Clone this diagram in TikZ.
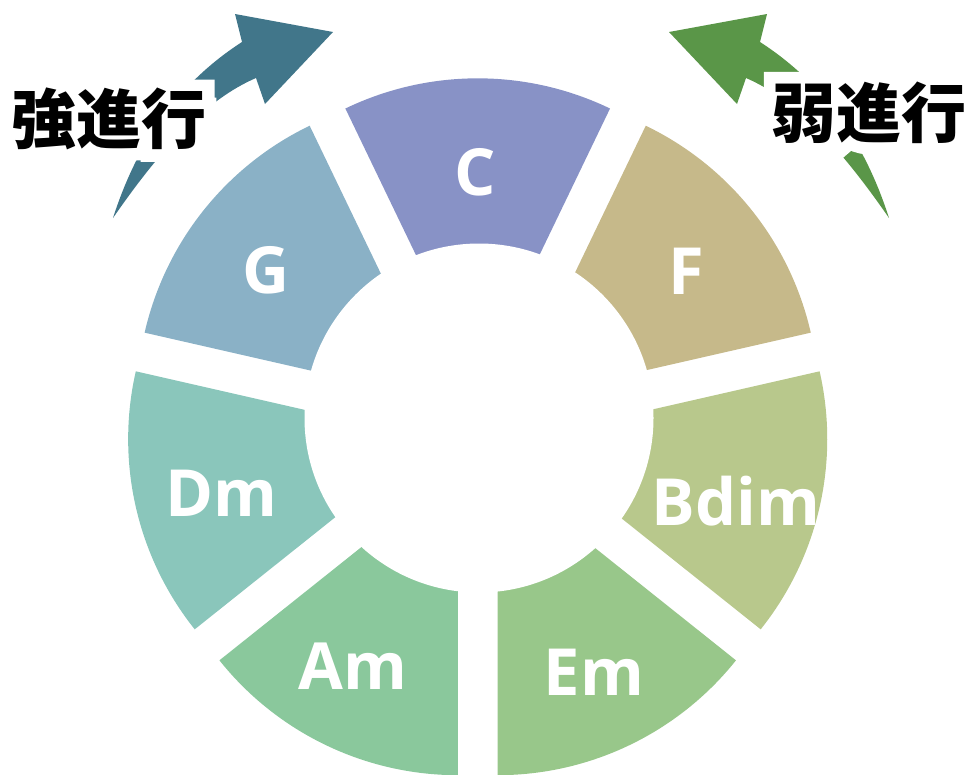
\documentclass[tikz,border=0pt]{standalone}
\usepackage{fontspec}
\newfontfamily\cjk{Noto Sans CJK JP}
\newfontfamily\cjkglow{Noto Sans CJK JP}[UprightFont={* Bold}, FakeBold=38]
\newfontfamily\labfont{Open Sans}
\usetikzlibrary{calc}
\definecolor{cC}{HTML}{8892C6}
\definecolor{cF}{HTML}{C6B98A}
\definecolor{cB}{HTML}{B8C88C}
\definecolor{cE}{HTML}{98C78A}
\definecolor{cA}{HTML}{8AC89C}
\definecolor{cD}{HTML}{8AC6BB}
\definecolor{cG}{HTML}{8AB1C6}
\definecolor{arrL}{HTML}{41768A}
\definecolor{arrR}{HTML}{5A9648}
\begin{document}
\begin{tikzpicture}[x=1pt,y=-1pt,
  chord/.style={text=white, font=\labfont\bfseries\fontsize{65}{65}\selectfont, anchor=base, inner sep=0pt},
  cjktxt/.style={font=\cjk\bfseries\fontsize{65}{65}\selectfont, inner sep=0pt, text=black},
  glowtxt/.style={font=\cjkglow\fontsize{65}{65}\selectfont, inner sep=0pt, text=white}]
\useasboundingbox (0,0) rectangle (971,774);
% exploded slices
\foreach \b/\col in {90/cC, 38.571/cF, -12.857/cB, -64.286/cE, -115.714/cA, -167.143/cD, 141.429/cG}{
  \pgfmathsetmacro\sa{-(\b)+25.714}
  \pgfmathsetmacro\ea{-(\b)-25.714}
  \pgfmathsetmacro\ta{-(\b)}
  \fill[\col] ($(477.7,429)+(\ta:45.7)$) -- ++(\sa:305) arc[start angle=\sa, end angle=\ea, radius=305] -- cycle;
}
% hole
\fill[white] (479,418) circle[radius=174.5];
% arrows
\fill[arrL] (113,218) .. controls (138,140) and (180,82) .. (242,42) -- (235,14) -- (333,32) -- (265,104) -- (256,78) .. controls (205,100) and (160,150) .. (113,218) -- cycle;
\begin{scope}[xshift=1002pt, xscale=-1]
\fill[arrR] (113,218) .. controls (138,140) and (180,82) .. (242,42) -- (235,14) -- (333,32) -- (265,104) -- (256,78) .. controls (205,100) and (160,150) .. (113,218) -- cycle;
\end{scope}
% chord labels
\node[chord] (nC) at (475,195) {C};
\node[chord] (nF) at (686,294) {F};
\node[chord] (nBdim) at (736,525.7) {Bdim};
\node[chord] (nEm) at (594,695.7) {Em};
\node[chord] (nAm) at (352.5,689.3) {Am};
\node[chord] (nDm) at (221,516) {Dm};
\node[chord] (nG) at (266,293) {G};
% glowing titles
\coordinate (LT) at (109,119);
\coordinate (RT) at (869,112.5);
\node[glowtxt] (strongglow) at (LT) {強進行};
\node[glowtxt] (weakglow) at (RT) {弱進行};
\node[cjktxt] (strong) at (LT) {強進行};
\node[cjktxt] (weak) at (RT) {弱進行};
\end{tikzpicture}
\end{document}
